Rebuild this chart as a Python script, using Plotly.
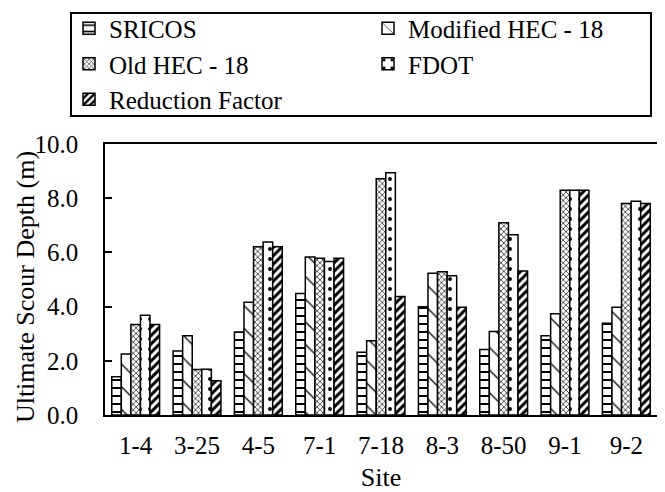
import plotly.graph_objects as go

sites = ["1-4", "3-25", "4-5", "7-1", "7-18", "8-3", "8-50", "9-1", "9-2"]
sricos = [1.41, 2.36, 3.06, 4.48, 2.32, 3.99, 2.42, 2.92, 3.39]
mod_hec18 = [2.25, 2.92, 4.16, 5.83, 2.74, 5.23, 3.08, 3.74, 3.98]
old_hec18 = [3.34, 1.68, 6.21, 5.78, 8.72, 5.29, 7.09, 8.29, 7.80]
fdot = [3.68, 1.69, 6.38, 5.66, 8.94, 5.14, 6.65, 8.29, 7.89]
red_factor = [3.34, 1.26, 6.21, 5.78, 4.37, 3.98, 5.31, 8.29, 7.80]

series = [
    ("SRICOS", sricos, dict(shape="-", size=8, solidity=0.25)),
    ("Modified HEC - 18", mod_hec18, dict(shape="\\", size=16, solidity=0.08)),
    ("Old HEC - 18", old_hec18, dict(shape="x", size=4, solidity=0.3)),
    ("FDOT", fdot, dict(shape=".", size=10, solidity=0.12)),
    ("Reduction Factor", red_factor, dict(shape="/", size=6, solidity=0.5)),
]

FONT = "Liberation Serif, Times New Roman, serif"

fig = go.Figure()
for name, vals, pat in series:
    fig.add_trace(go.Bar(
        name=name, x=sites, y=vals,
        marker=dict(color="white",
                    line=dict(color="black", width=1.5),
                    pattern=dict(fgcolor="black", bgcolor="white", fillmode="replace", **pat)),
    ))

# legend frame (paper coordinates relative to the plot area)
fig.add_shape(type="rect", xref="paper", yref="paper",
              x0=-0.0616, x1=0.9891, y0=1.1033, y1=1.4834,
              line=dict(color="black", width=2), fillcolor="rgba(0,0,0,0)", layer="above")

# y-axis title
fig.add_annotation(text="Ultimate Scour Depth (m)", xref="paper", yref="paper",
                   x=-0.1449, y=0.472, xanchor="center", yanchor="middle",
                   textangle=-90, showarrow=False,
                   font=dict(family=FONT, size=26, color="black"))

fig.update_layout(
    width=657, height=484,
    margin=dict(l=97, r=8, t=136, b=77, autoexpand=False),
    paper_bgcolor="white", plot_bgcolor="white",
    barmode="group", bargap=0.22, bargroupgap=0,
    font=dict(family=FONT, size=25, color="black"),
    legend=dict(
        orientation="h", x=-0.0652, y=1.5107, xanchor="left", yanchor="top",
        xref="paper", yref="paper",
        borderwidth=0, bgcolor="rgba(0,0,0,0)",
        entrywidth=254, entrywidthmode="pixels",
        font=dict(family=FONT, size=25, color="black"), itemwidth=30, tracegroupgap=0,
    ),
    xaxis=dict(
        title=dict(text="Site", font=dict(family=FONT, size=26), standoff=15),
        showline=True, linecolor="black", linewidth=1.5, mirror=True,
        ticks="", showgrid=False, ticklabelstandoff=7, automargin=False,
        tickfont=dict(family=FONT, size=25),
    ),
    yaxis=dict(
        range=[0, 10], dtick=2, tickformat=".1f",
        showline=True, linecolor="black", linewidth=1.5, mirror=True,
        ticks="inside", ticklen=7, tickwidth=1.5, tickcolor="black",
        showgrid=False, zeroline=False, ticklabelstandoff=20, automargin=False,
        tickfont=dict(family=FONT, size=25),
    ),
)

fig.write_html("out.html")
